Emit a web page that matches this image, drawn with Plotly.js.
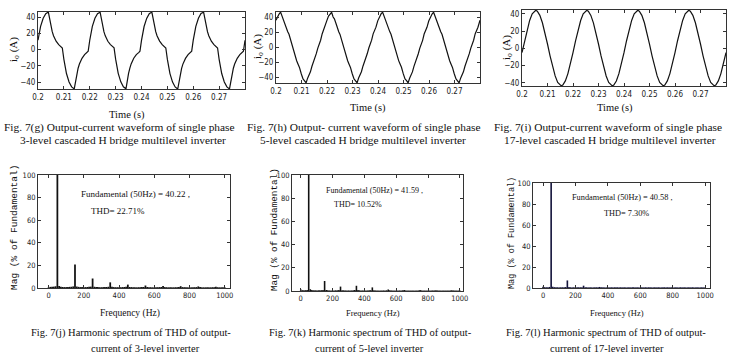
<!DOCTYPE html>
<html>
<head>
<meta charset="utf-8">
<script src="https://cdn.plot.ly/plotly-3.0.1.min.js"></script>
<style>
html,body{margin:0;padding:0;background:#fff;}
#chart{width:743px;height:364px;}
</style>
</head>
<body>
<div id="chart"></div>
<script>
// ---------------- DATA ----------------
// Fig 7(g) 3-level output current (A) vs time (s)
var t3 = [0.2000,0.2010,0.2020,0.2030,
 0.2040,0.2045,0.2050,0.2055,0.2060,0.2070,0.2080,0.2090,0.2094,0.2100,0.2110,0.2120,0.2130,0.2140,0.2145,0.2150,0.2155,0.2160,0.2170,0.2180,0.2190,0.2194,0.2200,0.2210,0.2220,0.2230,
 0.2240,0.2245,0.2250,0.2255,0.2260,0.2270,0.2280,0.2290,0.2294,0.2300,0.2310,0.2320,0.2330,0.2340,0.2345,0.2350,0.2355,0.2360,0.2370,0.2380,0.2390,0.2394,0.2400,0.2410,0.2420,0.2430,
 0.2440,0.2445,0.2450,0.2455,0.2460,0.2470,0.2480,0.2490,0.2494,0.2500,0.2510,0.2520,0.2530,0.2540,0.2545,0.2550,0.2555,0.2560,0.2570,0.2580,0.2590,0.2594,0.2600,0.2610,0.2620,0.2630,
 0.2640,0.2645,0.2650,0.2655,0.2660,0.2670,0.2680,0.2690,0.2694,0.2700,0.2710,0.2720,0.2730,0.2740,0.2745,0.2750,0.2755,0.2760,0.2770,0.2780,0.2790,0.2794,0.2800];
var i3 = [11.5,28.5,38.5,44.3,
 46.2,36.5,28.5,22,17,10.3,6,3.5,2,-12,-29.5,-40,-46,-48.5,-38,-29.5,-23,-17.8,-10.8,-6.3,-3.6,-2,11.5,28.5,38.5,44.3,
 46.0,36.3,28.4,21.8,16.9,10.2,6.1,3.4,2.1,-11.8,-29.3,-39.8,-45.9,-48.4,-37.8,-29.4,-22.9,-17.7,-10.7,-6.2,-3.5,-2.1,11.4,28.4,38.4,44.2,
 46.2,36.6,28.6,22.1,17.1,10.4,6.0,3.5,2.0,-12.1,-29.6,-40.1,-46.1,-48.6,-38.1,-29.6,-23.1,-17.9,-10.9,-6.3,-3.6,-2.0,11.6,28.6,38.6,44.4,
 46.1,36.4,28.5,22.0,17.0,10.3,6.0,3.5,2.0,-12.0,-29.5,-40.0,-46.0,-48.5,-38.0,-29.5,-23.0,-17.8,-10.8,-6.3,-3.6,-2.0,11.5];

// Fig 7(h) 5-level output current
var t5 = [0.2000,0.2006,0.2012,
 0.2018,0.2024,0.2029,0.2035,0.2041,0.2046,0.2051,0.2058,0.2064,0.2069,0.2075,0.2081,0.2087,0.2092,0.2099,0.2106,0.2112,0.2118,0.2124,0.2129,0.2135,0.2141,0.2146,0.2151,0.2158,0.2164,0.2169,0.2175,0.2181,0.2187,0.2192,0.2199,0.2206,0.2212,
 0.2218,0.2224,0.2229,0.2235,0.2241,0.2246,0.2251,0.2258,0.2264,0.2269,0.2275,0.2281,0.2287,0.2292,0.2299,0.2306,0.2312,0.2318,0.2324,0.2329,0.2335,0.2341,0.2346,0.2351,0.2358,0.2364,0.2369,0.2375,0.2381,0.2387,0.2392,0.2399,0.2406,0.2412,
 0.2418,0.2424,0.2429,0.2435,0.2441,0.2446,0.2451,0.2458,0.2464,0.2469,0.2475,0.2481,0.2487,0.2492,0.2499,0.2506,0.2512,0.2518,0.2524,0.2529,0.2535,0.2541,0.2546,0.2551,0.2558,0.2564,0.2569,0.2575,0.2581,0.2587,0.2592,0.2599,0.2606,0.2612,
 0.2618,0.2624,0.2629,0.2635,0.2641,0.2646,0.2651,0.2658,0.2664,0.2669,0.2675,0.2681,0.2687,0.2692,0.2699,0.2706,0.2712,0.2718,0.2724,0.2729,0.2735,0.2741,0.2746,0.2751,0.2758,0.2764,0.2769,0.2775,0.2781,0.2787,0.2792,0.2800];
var i5 = [36.5,42,44.8,
 47.3,41,38.5,32.5,25,21,17.5,8.5,1,-3,-9.5,-18,-23,-27,-35.5,-42.5,-45,-47.8,-41.5,-38.5,-33,-25.5,-21,-17.5,-8.5,-1,3,9.5,18,23,27,35.5,42,44.8,
 47.1,40.8,38.3,32.4,24.8,20.9,17.3,8.4,0.8,-3.1,-9.6,-18.1,-23.1,-27.1,-35.6,-42.6,-45.1,-47.7,-41.4,-38.4,-32.9,-25.4,-20.9,-17.4,-8.4,-0.9,3.1,9.6,18.1,23.1,27.1,35.6,42.1,44.9,
 47.3,41.1,38.6,32.6,25.1,21.1,17.6,8.6,1.1,-2.9,-9.4,-17.9,-22.9,-26.9,-35.4,-42.4,-44.9,-47.8,-41.6,-38.6,-33.1,-25.6,-21.1,-17.6,-8.6,-1.1,2.9,9.4,17.9,22.9,26.9,35.4,41.9,44.7,
 47.2,41,38.5,32.5,25,21,17.5,8.5,1,-3,-9.5,-18,-23,-27,-35.5,-42.5,-45,-47.8,-41.5,-38.5,-33,-25.5,-21,-17.5,-8.5,-1,3,9.5,18,23,27,36.4];

// Fig 7(i) 17-level output current
var t17 = [0.2000,0.2010,0.2020,0.2030,0.2040,0.2050,0.2054,0.2060,0.2070,0.2080,0.2090,0.2100,0.2110,0.2120,0.2130,0.2140,0.2150,0.2154,0.2160,0.2170,0.2180,0.2190,
 0.2200,0.2210,0.2220,0.2230,0.2240,0.2250,0.2254,0.2260,0.2270,0.2280,0.2290,0.2300,0.2310,0.2320,0.2330,0.2340,0.2350,0.2354,0.2360,0.2370,0.2380,0.2390,
 0.2400,0.2410,0.2420,0.2430,0.2440,0.2450,0.2454,0.2460,0.2470,0.2480,0.2490,0.2500,0.2510,0.2520,0.2530,0.2540,0.2550,0.2554,0.2560,0.2570,0.2580,0.2590,
 0.2600,0.2610,0.2620,0.2630,0.2640,0.2650,0.2654,0.2660,0.2670,0.2680,0.2690,0.2700,0.2710,0.2720,0.2730,0.2740,0.2750,0.2754,0.2760,0.2770,0.2780,0.2790,0.2800];
var i17 = [-5.0,8.8,21.7,32.4,40.0,43.7,44.2,43.1,38.3,29.7,18.2,5.0,-8.7,-21.5,-32.1,-39.6,-43.2,-43.6,-42.6,-37.9,-29.4,-18.0,
 -5.0,8.7,21.6,32.3,40.0,43.6,44.1,43.0,38.2,29.6,18.1,5.0,-8.8,-21.6,-32.2,-39.7,-43.3,-43.6,-42.7,-38.0,-29.5,-18.1,
 -5.1,8.8,21.7,32.4,40.1,43.7,44.2,43.1,38.3,29.7,18.2,4.9,-8.7,-21.5,-32.1,-39.6,-43.2,-43.6,-42.6,-37.9,-29.4,-18.0,
 -5.0,8.8,21.7,32.4,40.0,43.7,44.2,43.1,38.3,29.7,18.2,5.0,-8.7,-21.5,-32.1,-39.6,-43.2,-43.6,-42.6,-37.9,-29.4,-18.0,-5.0];

// Harmonic spectra: frequency bins (Hz) and magnitude (% of fundamental)
var freq = [0,10,20,30,40,50,60,70,80,90,100,110,120,130,140,150,160,170,180,190,200,210,220,230,240,250,260,270,280,290,300,310,320,330,340,350,360,370,380,390,400,410,420,430,440,450,460,470,480,490,500,510,520,530,540,550,560,570,580,590,600,610,620,630,640,650,660,670,680,690,700,710,720,730,740,750,760,770,780,790,800,810,820,830,840,850,860,870,880,890,900,910,920,930,940,950,960,970,980,990,1000];
var mag3 = [0.6,1.0,1.1,1.2,1.5,100,1.8,1.1,0.9,0.8,0.8,0.9,1.0,1.1,1.4,20.8,1.3,1.0,0.8,0.8,0.7,0.8,0.9,1.0,1.2,8.4,1.1,0.9,0.8,0.7,0.7,0.8,0.8,0.9,1.1,5.0,1.0,0.8,0.7,0.7,0.7,0.7,0.8,0.9,1.0,3.0,0.9,0.8,0.7,0.7,0.6,0.7,0.7,0.8,0.9,2.2,0.9,0.7,0.7,0.6,0.6,0.7,0.7,0.8,0.9,1.8,0.8,0.7,0.6,0.6,0.6,0.6,0.7,0.7,0.8,1.6,0.8,0.7,0.6,0.6,0.6,0.6,0.7,0.7,0.8,1.4,0.8,0.6,0.6,0.6,0.6,0.6,0.6,0.7,0.7,1.2,0.7,0.6,0.6,0.6,0.6];
var mag5 = [1.4,0.7,0.6,0.7,0.9,100,1.5,0.8,0.6,0.6,0.5,0.6,0.6,0.7,0.9,8.6,0.9,0.6,0.5,0.5,0.5,0.5,0.6,0.6,0.8,3.8,0.7,0.6,0.5,0.5,0.5,0.5,0.5,0.6,0.8,4.5,0.8,0.6,0.5,0.5,0.5,0.5,0.5,0.6,0.7,3.1,0.7,0.5,0.5,0.4,0.4,0.4,0.5,0.5,0.6,1.3,0.6,0.5,0.4,0.4,0.4,0.4,0.5,0.5,0.6,0.9,0.5,0.4,0.4,0.4,0.4,0.4,0.4,0.5,0.5,0.8,0.5,0.4,0.4,0.4,0.4,0.4,0.4,0.5,0.5,0.7,0.5,0.4,0.4,0.4,0.4,0.4,0.4,0.4,0.5,0.7,0.5,0.4,0.4,0.4,0.4];
var mag17 = [1.2,0.8,0.7,0.8,1.0,100,1.2,0.8,0.7,0.7,0.6,0.7,0.7,0.8,0.9,7.2,0.9,0.7,0.6,0.6,0.6,0.6,0.7,0.7,0.8,2.2,0.8,0.7,0.6,0.6,0.6,0.6,0.6,0.7,0.7,1.0,0.7,0.6,0.6,0.6,0.6,0.6,0.6,0.6,0.7,0.8,0.7,0.6,0.6,0.6,0.6,0.6,0.6,0.6,0.6,0.7,0.6,0.6,0.6,0.6,0.6,0.6,0.6,0.6,0.6,0.7,0.6,0.6,0.6,0.6,0.6,0.6,0.6,0.6,0.6,0.7,0.6,0.6,0.6,0.6,0.6,0.6,0.6,0.6,0.6,0.7,0.6,0.6,0.6,0.6,0.6,0.6,0.6,0.6,0.6,0.6,0.6,0.6,0.6,0.6,0.6];

// Tick labels
var timeTicks = [0.2,0.21,0.22,0.23,0.24,0.25,0.26,0.27];
var timeTickText = ["0.2","0.21","0.22","0.23","0.24","0.25","0.26","0.27"];
var currentTicks = [-40,-20,0,20,40];
var freqTicks = [0,200,400,600,800,1000];
var magTicks = [0,20,40,60,80,100];

// Text
var fundText = ["Fundamental (50Hz) = 40.22 ,", "Fundamental (50Hz) = 41.59 ,", "Fundamental (50Hz) = 40.58 ,"];
var thdText = ["THD= 22.71%", "THD= 10.52%", "THD= 7.30%"];

// ---------------- LAYOUT ----------------
var W = 743, H = 364;
function px(x){ return x / W; }
function py(y){ return 1 - y / H; }
var NARROW = "Liberation Sans Narrow, DejaVu Sans Condensed, Arial Narrow, Liberation Sans, sans-serif";
var SERIF = "Liberation Serif, Times New Roman, serif";
var MONO = "Liberation Mono, Courier New, monospace";

function ax(dom, range, anchor, tv, tt, fs){
  var a = {
    domain: dom, range: range, anchor: anchor, autorange: false,
    showline: true, linecolor: '#333', linewidth: 1, mirror: 'ticks',
    ticks: 'inside', ticklen: 3, tickwidth: 1, tickcolor: '#333',
    showgrid: false, zeroline: false, fixedrange: true,
    tickmode: 'array', tickvals: tv,
    tickfont: {family: NARROW, size: fs || 8, color: '#222'}
  };
  if (tt) a.ticktext = tt;
  return a;
}

var lineStyle = {color: '#111', width: 1.2};
var data = [
  {type:'scatter', mode:'lines', x:t3, y:i3, xaxis:'x', yaxis:'y', line:lineStyle, hoverinfo:'skip'},
  {type:'scatter', mode:'lines', x:t5, y:i5, xaxis:'x2', yaxis:'y2', line:lineStyle, hoverinfo:'skip'},
  {type:'scatter', mode:'lines', x:t17, y:i17, xaxis:'x3', yaxis:'y3', line:lineStyle, hoverinfo:'skip'},
  {type:'bar', x:freq, y:mag3, width:10, xaxis:'x4', yaxis:'y4', marker:{color:'#111', line:{width:0}}, hoverinfo:'skip'},
  {type:'bar', x:freq, y:mag5, width:10, xaxis:'x5', yaxis:'y5', marker:{color:'#111', line:{width:0}}, hoverinfo:'skip'},
  {type:'bar', x:freq, y:mag17, width:10, xaxis:'x6', yaxis:'y6', marker:{color:'#14143c', line:{width:0}}, hoverinfo:'skip'}
];

function ann(text, x, y, size, family, extra){
  var a = {text: text, x: px(x), y: py(y), xref: 'paper', yref: 'paper',
    xanchor: 'center', yanchor: 'middle', showarrow: false,
    font: {family: family || SERIF, size: size, color: '#111'}};
  if (extra) for (var k in extra) a[k] = extra[k];
  return a;
}

var annotations = [
  // top-row axis titles
  ann('Time (s)', 127, 115, 10.5),
  ann('Time (s)', 368, 108, 10.5),
  ann('Time (s)', 615, 108, 10.5),
  ann('i<sub>o</sub> (A)', 14, 50, 11, SERIF, {textangle: -90}),
  ann('i<sub>o</sub> (A)', 258, 47, 11, SERIF, {textangle: -90}),
  ann('i<sub>o</sub> (A)', 507, 48, 11, SERIF, {textangle: -90}),
  // bottom-row axis titles
  ann('Frequency (Hz)', 130, 313, 9.5),
  ann('Frequency (Hz)', 373, 313, 8.5),
  ann('Frequency (Hz)', 617, 313, 8.5),
  ann('Mag (% of Fundamental)', 14, 228, 9.5, MONO, {textangle: -90}),
  ann('Mag (% of Fundamental)', 274, 230, 9.3, MONO, {textangle: -90}),
  ann('Mag (% of Fundamental)', 512, 233, 8.5, MONO, {textangle: -90}),
  // spectrum notes
  ann(fundText[0], 135, 194, 9),
  ann(thdText[0], 118, 211, 9),
  ann(fundText[1], 374, 190, 8),
  ann(thdText[1], 358, 204, 8),
  ann(fundText[2], 622, 197, 8.3),
  ann(thdText[2], 626, 213, 8.3),
  // captions
  ann('Fig. 7(g) Output-current waveform of single phase', 120, 127, 11.4),
  ann('3-level cascaded H bridge multilevel inverter', 123, 140, 11.4),
  ann('Fig. 7(h) Output- current waveform of single phase', 363, 127, 11.4),
  ann('5-level cascaded H bridge multilevel inverter', 363, 140, 11.4),
  ann('Fig. 7(i) Output-current waveform of single phase', 608, 127, 11.4),
  ann('17-level cascaded H bridge multilevel inverter', 610, 140, 11.4),
  ann('Fig. 7(j) Harmonic spectrum of THD of output-', 131, 333, 10.5),
  ann('current of 3-level inverter', 145, 348, 10.5),
  ann('Fig. 7(k) Harmonic spectrum of THD of output-', 370, 333, 10.5),
  ann('current of 5-level inverter', 369, 348, 10.5),
  ann('Fig. 7(l) Harmonic spectrum of THD of output-', 606, 333, 10.5),
  ann('current of 17-level inverter', 607, 348, 10.5)
];

var layout = {
  width: W, height: H,
  margin: {l:0, r:0, t:0, b:0, pad:0},
  paper_bgcolor: '#fff', plot_bgcolor: '#fff',
  showlegend: false,
  xaxis:  ax([px(38), px(245)], [0.2, 0.28], 'y', timeTicks, timeTickText, 8),
  yaxis:  ax([py(89), py(12)], [-48.6, 46.3], 'x', currentTicks, null, 8),
  xaxis2: ax([px(276), px(480)], [0.2, 0.28], 'y2', timeTicks, timeTickText, 8),
  yaxis2: ax([py(83), py(12)], [-48, 47.5], 'x2', currentTicks, null, 8),
  xaxis3: ax([px(522), px(726)], [0.2, 0.28], 'y3', timeTicks, timeTickText, 8),
  yaxis3: ax([py(86), py(10)], [-43.8, 44.5], 'x3', currentTicks, null, 8),
  xaxis4: ax([px(38), px(230)], [-60, 1030], 'y4', freqTicks, null, 7.5),
  yaxis4: ax([py(288), py(175)], [0, 100], 'x4', magTicks, null, 7.5),
  xaxis5: ax([px(292), px(463)], [-55, 1020], 'y5', freqTicks, null, 7.5),
  yaxis5: ax([py(291), py(175)], [0, 100], 'x5', magTicks, null, 7.5),
  xaxis6: ax([px(533), px(710)], [-62, 1030], 'y6', freqTicks, null, 7.5),
  yaxis6: ax([py(288), py(183)], [0, 100], 'x6', magTicks, null, 7.5),
  annotations: annotations
};

Plotly.newPlot('chart', data, layout, {staticPlot: true, displayModeBar: false});
</script>
</body>
</html>
